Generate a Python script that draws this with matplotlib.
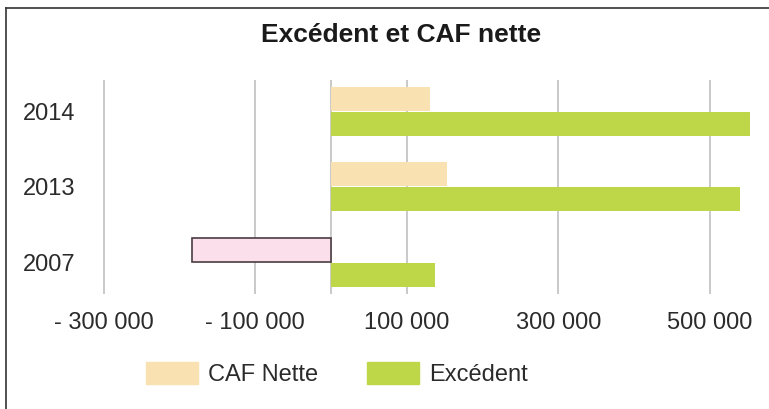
import matplotlib.pyplot as plt
import numpy as np
from matplotlib.lines import Line2D
from matplotlib.patches import Patch

# -------------------- DONNEES --------------------
annees = ["2007", "2013", "2014"]
caf_nette = [-183000, 153000, 131000]
excedent = [137000, 540000, 553000]
ticks_x = [-300000, -100000, 100000, 300000, 500000]
labels_x = ["- 300 000", "- 100 000", "100 000", "300 000", "500 000"]

COL_CAF = "#fae1b1"
COL_EXC = "#bed748"
COL_NEG = "#fbdfea"
TXT = "#2b2b2b"

plt.rcParams["font.family"] = ["Liberation Sans", "DejaVu Sans"]

fig = plt.figure(figsize=(7.69, 4.09), dpi=100)
ax = fig.add_axes([84 / 769, 0.281, 1 - 84 / 769 - 10 / 769, 0.523])

y = np.arange(len(annees))
h = 0.32
off = 0.165

# CAF nette (au-dessus), negatif en rose avec bordure
for i, v in enumerate(caf_nette):
    if v < 0:
        ax.barh(y[i] + off, v, height=h, color=COL_NEG, edgecolor="#4a3c42",
                linewidth=1.2, zorder=3)
    else:
        ax.barh(y[i] + off, v, height=h, color=COL_CAF, zorder=3)
ax.barh(y - off, excedent, height=h, color=COL_EXC, zorder=3)

ax.set_xlim(-326000, 565000)
ax.set_ylim(-0.42, 2.41)
for t in ticks_x + [0]:
    ax.axvline(t, color="#c9c9c9", lw=1.4, zorder=1)

ax.set_xticks(ticks_x)
ax.set_xticklabels(labels_x, fontsize=17, color=TXT)
ax.set_yticks(y)
ax.set_yticklabels(annees, fontsize=17, color=TXT)
ax.tick_params(axis="x", length=0, pad=13)
ax.tick_params(axis="y", length=0, pad=6)
for s in ax.spines.values():
    s.set_visible(False)

fig.text(401 / 769, 1 - 42 / 409, "Excédent et CAF nette", ha="center", va="baseline",
         fontsize=19, fontweight="bold", color="#1a1a1a")

# legende
handles = [Patch(color=COL_CAF, label="CAF Nette"), Patch(color=COL_EXC, label="Excédent")]
fig.legend(handles=handles, loc="center", bbox_to_anchor=(337 / 769, 1 - 374 / 409),
           ncol=2, frameon=False, fontsize=17, handlelength=2.2, handleheight=1.06,
           handletextpad=0.42, columnspacing=2.1, labelcolor=TXT)

# cadre
fig.add_artist(Line2D([6 / 769, 6 / 769], [0, 1 - 8 / 409], color="#333333", lw=1.2,
                      transform=fig.transFigure))
fig.add_artist(Line2D([6 / 769, 1], [1 - 8 / 409, 1 - 8 / 409], color="#333333", lw=1.2,
                      transform=fig.transFigure))

fig.savefig("out.png", dpi=100)
